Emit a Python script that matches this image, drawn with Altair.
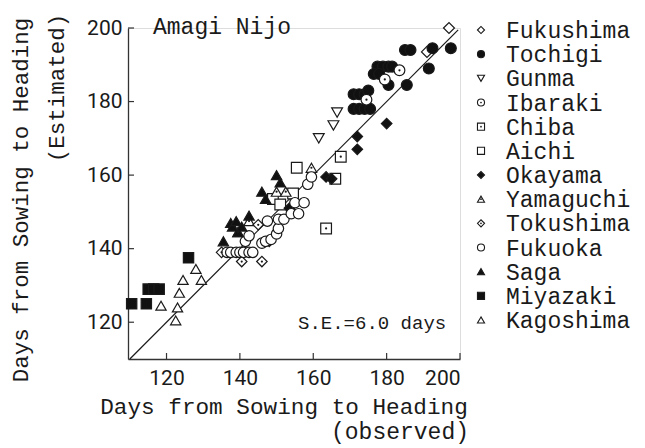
import altair as alt
import pandas as pd

# ---------------- data ----------------
prefs = ["Fukushima", "Tochigi", "Gunma", "Ibaraki", "Chiba", "Aichi", "Okayama",
         "Yamaguchi", "Tokushima", "Fukuoka", "Saga", "Miyazaki", "Kagoshima"]

fukushima_x = [191, 197]
fukushima_y = [193.5, 200]

tochigi_x = [171, 172.5, 174, 175, 171, 172.5, 174, 175.5, 177.5, 179, 180.5, 181.5,
             176.5, 178, 180.5, 185.5, 191.5, 185, 186.5, 192.5, 197.5]
tochigi_y = [182, 182, 182, 183, 178, 178, 178, 178, 189.5, 189.5, 189.5, 189.5,
             187.5, 187.5, 184.5, 184.5, 189, 194, 194, 194.5, 194.5]

gunma_x = [161.5, 165.5, 166.5]
gunma_y = [170, 173.5, 177]

ibaraki_x = [174.5, 179.5, 183.5]
ibaraki_y = [180.5, 186, 188.5]

chiba_x = [163.5, 166, 167.5]
chiba_y = [145.5, 159, 165]

aichi_x = [149, 151, 154.5, 155.5]
aichi_y = [153.5, 152, 155, 162]

okayama_x = [148, 153.5, 163.5, 165, 172, 172, 180]
okayama_y = [142, 151, 159.5, 159, 170.5, 167, 174]

yamaguchi_x = [139.5, 142.5, 150, 152.5, 159.5]
yamaguchi_y = [144.5, 147.5, 155.5, 155.5, 162]

tokushima_x = [135, 140.5, 146, 145]
tokushima_y = [139, 136.5, 136.5, 146.5]

fukuoka_x = [136.5, 137.5, 139, 140, 141, 142.5, 143.5, 141.5, 142.5, 146, 147, 148.5,
             150, 150.5, 147.5, 150.5, 152, 154, 156, 155, 157.5, 158.5, 159.5]
fukuoka_y = [139, 139, 139, 139, 139, 139, 139, 142, 143.5, 141.5, 142, 142.5,
             144, 145.5, 147.5, 148, 148, 149.5, 149.5, 152.5, 152.5, 157.5, 159.5]

saga_x = [135.5, 137.5, 138, 139, 139.5, 140.5, 142.5, 146, 147, 150, 151]
saga_y = [142, 147, 146, 147.5, 144.5, 146, 149, 155.5, 153.5, 160, 158]

miyazaki_x = [110.5, 114.5, 115, 116.5, 118, 126]
miyazaki_y = [125, 125, 129, 129, 129, 137.5]

kagoshima_x = [118.5, 122.5, 123, 123.5, 124.5, 128, 129.5]
kagoshima_y = [124.5, 120.5, 124, 128, 131.5, 134.5, 131.5]

tick_values = [120, 140, 160, 180, 200]
line_values = [110, 199.5]
se_label = "S.E.=6.0 days"
variety = "Amagi Nijo"

# ---------------- styling tables ----------------
shapes = ["diamond", "circle", "triangle-down", "circle", "square", "square", "diamond",
          "triangle-up", "diamond", "circle", "triangle-up", "square", "triangle-up"]
fills = ["white", "#111", "white", "white", "white", "white", "#111",
         "white", "white", "white", "#111", "#111", "white"]
sizes = [120, 105, 100, 105, 90, 90, 130, 70, 120, 105, 115, 90, 100]
dotted = ["Ibaraki", "Chiba", "Yamaguchi", "Tokushima"]

series = {
    "Fukushima": (fukushima_x, fukushima_y), "Tochigi": (tochigi_x, tochigi_y),
    "Gunma": (gunma_x, gunma_y), "Ibaraki": (ibaraki_x, ibaraki_y),
    "Chiba": (chiba_x, chiba_y), "Aichi": (aichi_x, aichi_y),
    "Okayama": (okayama_x, okayama_y), "Yamaguchi": (yamaguchi_x, yamaguchi_y),
    "Tokushima": (tokushima_x, tokushima_y), "Fukuoka": (fukuoka_x, fukuoka_y),
    "Saga": (saga_x, saga_y), "Miyazaki": (miyazaki_x, miyazaki_y),
    "Kagoshima": (kagoshima_x, kagoshima_y),
}
rows = []
for p in prefs:
    xs, ys = series[p]
    for a, b in zip(xs, ys):
        rows.append({"pref": p, "obs": a, "est": b})
df = pd.DataFrame(rows)
tick_df = pd.DataFrame({"t": tick_values})
line_df = pd.DataFrame({"v": line_values})
one = pd.DataFrame({"k": [0]})
leg_df = pd.DataFrame({"pref": prefs})

MONO = "Liberation Mono"
NUMF = "Liberation Sans Narrow, Roboto, Liberation Sans"
INK = "#1a1a1a"

xscale = alt.Scale(domain=[109.5, 200], nice=False, zero=False)
yscale = alt.Scale(domain=[110, 200], nice=False, zero=False)
xaxis = alt.Axis(values=tick_values, ticks=False, grid=False, title=None,
                 labelFont=NUMF, labelFontSize=21, labelColor=INK, labelPadding=8,
                 domainColor="#333", domainWidth=1.3)
yaxis = alt.Axis(values=tick_values, ticks=False, grid=False, title=None,
                 labelFont=NUMF, labelFontSize=21, labelColor=INK, labelPadding=6,
                 domainColor="#333", domainWidth=1.3)

def X(f):
    return alt.X(f, scale=xscale, axis=xaxis)

def Y(f):
    return alt.Y(f, scale=yscale, axis=yaxis)

shape_enc = alt.Shape("pref:N", scale=alt.Scale(domain=prefs, range=shapes), legend=None)
fill_enc = alt.Fill("pref:N", scale=alt.Scale(domain=prefs, range=fills), legend=None)

line = alt.Chart(line_df).mark_line(color=INK, strokeWidth=1.2).encode(x=X("v:Q"), y=Y("v:Q"))

points = alt.Chart(df).mark_point(filled=True, stroke=INK, strokeWidth=1.2,
                                  opacity=1, fillOpacity=1).encode(
    x=X("obs:Q"), y=Y("est:Q"), shape=shape_enc, fill=fill_enc,
    size=alt.Size("pref:N", scale=alt.Scale(domain=prefs, range=sizes), legend=None),
)
dots = alt.Chart(df).transform_filter(
    alt.FieldOneOfPredicate(field="pref", oneOf=dotted)
).mark_point(filled=True, shape="circle", size=5, color=INK, opacity=1).encode(
    x=X("obs:Q"), y=Y("est:Q"))

xticks = alt.Chart(tick_df).mark_rule(color="#333", strokeWidth=1.2).encode(
    x=X("t:Q"), y=alt.value(331), y2=alt.value(325))
yticks = alt.Chart(tick_df).mark_rule(color="#333", strokeWidth=1.2).encode(
    y=Y("t:Q"), x=alt.value(0), x2=alt.value(6))

def label(txt, x, y, size=22, angle=0, align="left"):
    return alt.Chart(one).mark_text(text=txt, font=MONO, fontSize=size, color=INK,
                                    align=align, baseline="alphabetic", angle=angle
                                    ).encode(x=alt.value(x), y=alt.value(y))

t_var = label(variety, 25, 6, 23)
t_se = label(se_label, 170, 301, 19)
t_x1 = label("Days from Sowing to Heading", 156, 386, 22.7, align="center")
t_x2 = label("(observed)", 272, 411, 23, align="center")
t_y1 = label("Days from Sowing to Heading", -100, 172, 22.5, angle=270, align="center")
t_y2 = label("(Estimated)", -64, 60, 22.5, angle=270, align="center")

main = alt.layer(line, points, dots, xticks, yticks, t_var, t_se, t_x1, t_x2, t_y1, t_y2)

leg_y = alt.Y("pref:N", sort=prefs,
              scale=alt.Scale(domain=prefs, type="point", range=[2, 292], padding=0),
              axis=None)
leg_pts = alt.Chart(leg_df).mark_point(filled=True, stroke=INK, strokeWidth=1.1,
                                       opacity=1, fillOpacity=1, size=50).encode(
    x=alt.value(353), y=leg_y, shape=shape_enc, fill=fill_enc)
leg_dots = alt.Chart(leg_df).transform_filter(
    alt.FieldOneOfPredicate(field="pref", oneOf=dotted)
).mark_point(filled=True, shape="circle", size=3, color=INK, opacity=1).encode(
    x=alt.value(353), y=leg_y)
leg_txt = alt.Chart(leg_df).mark_text(font=MONO, fontSize=23, color=INK, align="left",
                                      baseline="middle", dy=1).encode(
    x=alt.value(378), y=leg_y, text="pref:N")
legend = alt.layer(leg_pts, leg_dots, leg_txt)

chart = alt.layer(main, legend).resolve_scale(y="independent").properties(
    width=332, height=331,
    padding={"left": 120, "top": 20, "right": 177, "bottom": 89},
    autosize=alt.AutoSizeParams(type="none"),
).configure_view(stroke=None).configure(background="white")

chart.save("out.html", embed_options={"renderer": "svg", "actions": False})
